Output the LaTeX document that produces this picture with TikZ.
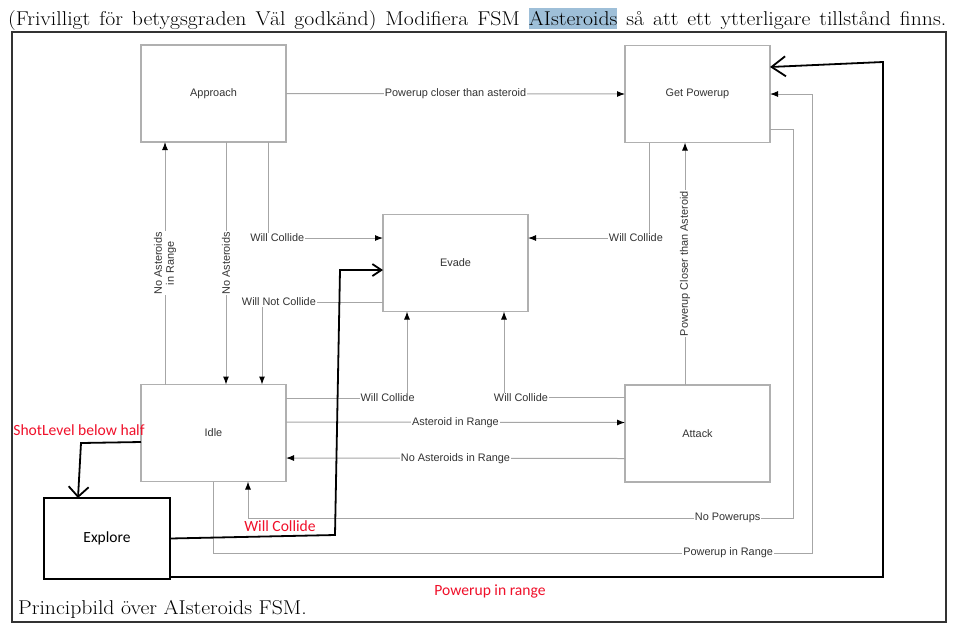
\documentclass[tikz,border=0pt]{standalone}
\usepackage{fontspec}
\newfontfamily\labfont{Liberation Sans}
\newfontfamily\calfont{Carlito}
\usetikzlibrary{arrows.meta}
\definecolor{boxgray}{HTML}{B0B0B0}
\definecolor{linegray}{HTML}{A6A6A6}
\definecolor{txtgray}{HTML}{333333}
\definecolor{hlblue}{HTML}{9EBFD8}
\definecolor{annred}{HTML}{F0102A}
\begin{document}
\begin{tikzpicture}[x=1pt,y=-1pt,
  state/.style={draw=boxgray, line width=1.1pt, minimum width=145pt, minimum height=97pt, inner sep=0pt, outer sep=0pt, font=\labfont\fontsize{10.9}{12}\selectfont, text=txtgray},
  conn/.style={draw=linegray, line width=1pt, -{Latex[length=8pt,width=6pt,color=black]}},
  lbl/.style={fill=white, inner sep=1pt, font=\labfont\fontsize{10.9}{12}\selectfont, text=txtgray},
  ann/.style={draw=black, line width=1.8pt, -{Straight Barb[length=10pt,width=18pt]}},
  annlbl/.style={font=\calfont\fontsize{15.6}{18}\selectfont, text=annred, inner sep=0pt},
  hdrtext/.style={anchor=base west, inner sep=0pt, font=\fontsize{20}{24}\selectfont}
]
\useasboundingbox[fill=white] (0,0) rectangle (966,633);
% header and frame
\node[hdrtext] (hdr) at (8,25) {\scalebox{1.087}[1]{\makebox[863pt][s]{(Frivilligt för betygsgraden Väl godkänd) Modifiera FSM {\setlength\fboxsep{0pt}\colorbox{hlblue}{\rule[-4pt]{0pt}{21pt}AIsteroids}} så att ett ytterligare tillstånd finns.}}};
\draw[line width=1.3pt, draw=black!80] (12,32) rectangle (946,622);
\node[hdrtext] (cap) at (18,614) {\scalebox{1.087}[1]{Principbild över AIsteroids FSM.}};
% states
\node[state] (approach) at (213.5,93.5) {Approach};
\node[state] (getpow) at (697.5,94) {Get Powerup};
\node[state] (evade) at (455.5,263) {Evade};
\node[state] (idle) at (213.5,433) {Idle};
\node[state] (attack) at (697.5,433.5) {Attack};
\node[draw, line width=2.5pt, minimum width=126pt, minimum height=81pt, inner sep=0pt, outer sep=0pt, font=\calfont\fontsize{15.5}{18}\selectfont] (explore) at (107,538.5) {Explore};
% gray connectors
\draw[conn] (approach.east) -- node[lbl]{Powerup closer than asteroid} (getpow.west);
\draw[conn] ([xshift=24pt]idle.north west) -- node[lbl, rotate=90, align=center]{No Asteroids\\in Range} ([xshift=24pt]approach.south west);
\draw[conn] ([xshift=85pt]approach.south west) -- node[lbl, rotate=90]{No Asteroids} ([xshift=85pt]idle.north west);
\draw[conn] ([xshift=127pt]approach.south west) |- node[lbl, pos=0.54]{Will Collide} ([yshift=25pt]evade.west);
\draw[conn] ([yshift=-39pt]evade.west) -| node[lbl, pos=0.43]{Will Not Collide} ([xshift=121pt]idle.north west);
\draw[conn] ([xshift=24pt]getpow.south west) |- node[lbl, pos=0.554]{Will Collide} ([yshift=25pt]evade.east);
\draw[conn] ([xshift=60pt]attack.north west) -- node[lbl, rotate=90]{Powerup Closer than Asteroid} ([xshift=60pt]getpow.south west);
\draw[conn] ([yshift=35pt]idle.east) -| node[lbl, pos=0.42]{Will Collide} ([xshift=24pt]evade.south west);
\draw[conn] ([yshift=36pt]attack.west) -| node[lbl, pos=0.43]{Will Collide} ([xshift=121pt]evade.south west);
\draw[conn] ([yshift=11pt]idle.east) -- node[lbl]{Asteroid in Range} ([yshift=11pt]attack.west);
\draw[conn] ([yshift=-25pt]attack.west) -- node[lbl]{No Asteroids in Range} ([yshift=-25pt]idle.east);
\draw[conn] ([yshift=-35pt]getpow.east) -| (793,518) -| node[lbl, pos=0.06]{No Powerups} ([xshift=107pt]idle.south west);
\draw[conn] ([xshift=72pt]idle.south west) |- (812,553) node[lbl, pos=0.93]{Powerup in Range} |- (getpow.east);
% annotations
\draw[ann, -{Straight Barb[length=10pt,width=20pt]}] ([yshift=-9pt]idle.west) -- (81,443) -- ([xshift=34pt]explore.north west);
\node[annlbl] (lshot) at (79,430) {ShotLevel below half};
\draw[ann, -{Straight Barb[length=9pt,width=12pt]}] (explore.east) -- (335,535) -- (340,270) -- ([yshift=-7pt]evade.west);
\node[annlbl] (lwc) at (280,526) {Will Collide};
\draw[ann, -{Straight Barb[length=14pt,width=20pt]}] ([yshift=2pt]explore.south east) -- (883,577) -- (883,62) -- ([yshift=27pt]getpow.east);
\node[annlbl] (lpr) at (490,591) {Powerup in range};
\end{tikzpicture}
\end{document}
